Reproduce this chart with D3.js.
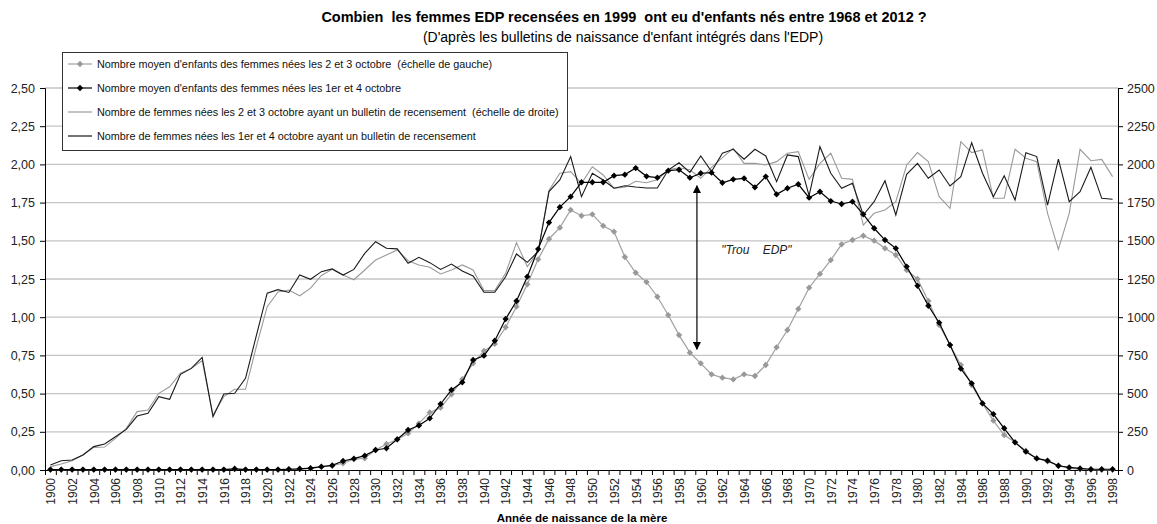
<!DOCTYPE html>
<html>
<head>
<meta charset="utf-8">
<script src="https://cdn.jsdelivr.net/npm/d3@7"></script>
<style>
  body { margin: 0; background: #fff; }
  svg { font-family: "Liberation Sans", Arial, sans-serif; display: block; }
</style>
</head>
<body>
<div id="chart"></div>
<script>
const W = 1157, H = 524;
const margin = { top: 88, right: 39, bottom: 54, left: 45 };

const years = d3.range(1900, 1999);

// Nombre moyen d'enfants, femmes nées les 2 et 3 octobre (échelle de gauche)
const childrenMid = [
  0.003, 0.003, 0.003, 0.003, 0.003, 0.003, 0.003, 0.003, 0.003, 0.003,
  0.003, 0.003, 0.003, 0.003, 0.003, 0.003, 0.003, 0.006, 0.003, 0.003,
  0.003, 0.003, 0.004, 0.006, 0.010, 0.020, 0.028, 0.044, 0.070, 0.077,
  0.131, 0.170, 0.200, 0.240, 0.305, 0.377, 0.408, 0.495, 0.594, 0.698,
  0.779, 0.825, 0.934, 1.069, 1.215, 1.379, 1.512, 1.586, 1.702, 1.664,
  1.673, 1.598, 1.560, 1.394, 1.291, 1.230, 1.134, 1.014, 0.883, 0.768,
  0.698, 0.626, 0.604, 0.593, 0.626, 0.615, 0.687, 0.803, 0.916, 1.054,
  1.193, 1.283, 1.374, 1.477, 1.505, 1.533, 1.501, 1.451, 1.407, 1.309,
  1.250, 1.106, 0.949, 0.818, 0.687, 0.556, 0.436, 0.323, 0.229, 0.181,
  0.126, 0.076, 0.056, 0.028, 0.012, 0.005, 0.002, 0.001, 0.001
];

// Nombre moyen d'enfants, femmes nées les 1er et 4 octobre
const childrenEdp = [
  0.003, 0.003, 0.003, 0.003, 0.003, 0.003, 0.003, 0.003, 0.003, 0.003,
  0.003, 0.003, 0.003, 0.003, 0.003, 0.003, 0.003, 0.008, 0.003, 0.003,
  0.003, 0.003, 0.005, 0.008, 0.012, 0.022, 0.030, 0.059, 0.074, 0.094,
  0.131, 0.142, 0.201, 0.262, 0.291, 0.338, 0.432, 0.524, 0.574, 0.720,
  0.748, 0.846, 0.988, 1.106, 1.265, 1.446, 1.619, 1.720, 1.789, 1.883,
  1.883, 1.883, 1.926, 1.933, 1.976, 1.922, 1.913, 1.959, 1.965, 1.913,
  1.942, 1.946, 1.880, 1.902, 1.909, 1.850, 1.920, 1.804, 1.844, 1.870,
  1.782, 1.821, 1.760, 1.741, 1.756, 1.673, 1.582, 1.505, 1.451, 1.331,
  1.206, 1.075, 0.964, 0.818, 0.663, 0.567, 0.436, 0.366, 0.273, 0.181,
  0.120, 0.076, 0.061, 0.028, 0.017, 0.010, 0.005, 0.005, 0.005
];

// Nombre de femmes nées les 2 et 3 octobre ayant un bulletin (échelle de droite)
const womenMid = [
  22, 39, 61, 98, 148, 150, 207, 273, 382, 393,
  502, 545, 633, 665, 715, 360, 480, 528, 528, 807,
  1069, 1165, 1178, 1140, 1190, 1273, 1313, 1276, 1245, 1309,
  1374, 1407, 1440, 1370, 1342, 1327, 1283, 1309, 1342, 1309,
  1174, 1174, 1287, 1488, 1331, 1429, 1830, 1942, 1953, 1876,
  1985, 1931, 1844, 1850, 1890, 1880, 1900, 1965, 1978, 1965,
  1909, 1981, 2044, 2105, 2007, 2007, 1996, 2018, 2073, 2083,
  1902, 2007, 2073, 1909, 1902, 1603, 1680, 1702, 1756, 1996,
  2077, 2018, 1789, 1713, 2149, 2077, 2094, 1778, 1778, 2099,
  2040, 2018, 1680, 1444, 1680, 2099, 2024, 2033, 1920
];

// Nombre de femmes nées les 1er et 4 octobre ayant un bulletin
const womenEdp = [
  33, 61, 65, 98, 153, 170, 218, 266, 353, 371,
  480, 463, 626, 665, 737, 349, 497, 502, 600, 880,
  1157, 1180, 1162, 1276, 1248, 1298, 1316, 1276, 1313, 1418,
  1494, 1451, 1447, 1353, 1392, 1357, 1313, 1348, 1302, 1270,
  1163, 1163, 1265, 1414, 1359, 1430, 1822, 1898, 2051, 1789,
  1942, 1898, 1844, 1860, 1852, 1846, 1846, 1963, 2011, 1948,
  2055, 1953, 2073, 2099, 2034, 2099, 2055, 1887, 2062, 2051,
  1795, 2116, 1942, 1844, 1876, 1669, 1756, 1893, 1669, 1935,
  2007, 1909, 1963, 1859, 1920, 2142, 1942, 1789, 1926, 1767,
  2077, 2051, 1734, 2035, 1756, 1821, 1981, 1778, 1772
];

const leftTicks = [0, 0.25, 0.5, 0.75, 1, 1.25, 1.5, 1.75, 2, 2.25, 2.5];
const rightTicks = [0, 250, 500, 750, 1000, 1250, 1500, 1750, 2000, 2250, 2500];
const yearLabels = years.filter(y => y % 2 === 0);

const legendLabels = [
  "Nombre moyen d'enfants des femmes nées les 2 et 3 octobre  (échelle de gauche)",
  "Nombre moyen d'enfants des femmes nées les 1er et 4 octobre",
  "Nombre de femmes nées les 2 et 3 octobre ayant un bulletin de recensement  (échelle de droite)",
  "Nombre de femmes nées les 1er et 4 octobre ayant un bulletin de recensement"
];

// annotation "Trou EDP" : double flèche entre les deux courbes
const gapArrow = { year: 1959.65, from: 1.86, to: 0.79 };
const gapLabel = { year: 1961.9, value: 1.415, text: "\"Trou    EDP\"" };

const svg = d3.select("#chart").append("svg")
    .attr("width", W)
    .attr("height", H);

const x = d3.scaleLinear()
    .domain([1899.5, 1998.5])
    .range([margin.left, W - margin.right]);
const yL = d3.scaleLinear().domain([0, 2.5]).range([H - margin.bottom, margin.top]);
const yR = d3.scaleLinear().domain([0, 2500]).range([H - margin.bottom, margin.top]);

// titles
svg.append("text")
    .attr("x", 624).attr("y", 22)
    .attr("text-anchor", "middle")
    .style("font-weight", "bold").style("font-size", "14.5px")
    .style("white-space", "pre")
    .text("Combien  les femmes EDP recensées en 1999  ont eu d'enfants nés entre 1968 et 2012 ?");
svg.append("text")
    .attr("x", 623).attr("y", 42)
    .attr("text-anchor", "middle")
    .style("font-size", "14px")
    .text("(D'après les bulletins de naissance d'enfant intégrés dans l'EDP)");

// gridlines
svg.append("g")
    .selectAll("line")
    .data(leftTicks.slice(1))
    .join("line")
    .attr("x1", x.range()[0]).attr("x2", x.range()[1])
    .attr("y1", d => yL(d)).attr("y2", d => yL(d))
    .attr("stroke", "#c4c4c4")
    .attr("stroke-width", 1.3);

// axes
const fmtLeft = d => d.toFixed(2).replace(".", ",");
const gLeft = svg.append("g")
    .attr("transform", `translate(${x.range()[0]},0)`)
    .call(d3.axisLeft(yL).tickValues(leftTicks).tickFormat(fmtLeft).tickSizeOuter(0).tickSize(5).tickPadding(5));
gLeft.selectAll("text").style("font-size", "12.5px").attr("fill", "#222");

const gRight = svg.append("g")
    .attr("transform", `translate(${x.range()[1]},0)`)
    .call(d3.axisRight(yR).tickValues(rightTicks).tickFormat(d3.format("d")).tickSizeOuter(0).tickSize(5).tickPadding(4));
gRight.selectAll("text").style("font-size", "12.5px").attr("fill", "#222");

const bottomY = H - margin.bottom;
svg.append("g")
    .attr("transform", `translate(0,${bottomY})`)
    .call(d3.axisBottom(x).tickValues(d3.range(1899.5, 1999, 1)).tickFormat("").tickSizeOuter(0).tickSize(5));

const gLabels = svg.append("g")
    .attr("transform", `translate(0,${bottomY})`)
    .call(d3.axisBottom(x).tickValues(yearLabels).tickFormat(d3.format("d")).tickSize(0));
gLabels.select(".domain").remove();
gLabels.selectAll("text")
    .attr("transform", "rotate(-90)")
    .attr("x", -8).attr("y", 0).attr("dy", "0.36em")
    .attr("text-anchor", "end")
    .attr("fill", "#222")
    .style("font-size", "12px");

svg.append("text")
    .attr("x", 582).attr("y", 522)
    .attr("text-anchor", "middle")
    .style("font-weight", "bold").style("font-size", "11.5px")
    .text("Année de naissance de la mère");

// series
const lineL = vals => d3.line().x((d, i) => x(years[i])).y(d => yL(d))(vals);
const lineR = vals => d3.line().x((d, i) => x(years[i])).y(d => yR(d))(vals);

svg.append("path").attr("d", lineR(womenMid))
    .attr("fill", "none").attr("stroke", "#9a9a9a").attr("stroke-width", 1.1);
svg.append("path").attr("d", lineR(womenEdp))
    .attr("fill", "none").attr("stroke", "#1a1a1a").attr("stroke-width", 1.1);

const diamond = d3.symbol(d3.symbolSquare, 20);

svg.append("path").attr("d", lineL(childrenMid))
    .attr("fill", "none").attr("stroke", "#a0a0a0").attr("stroke-width", 1.2);
svg.append("g").selectAll("path")
    .data(childrenMid)
    .join("path")
    .attr("d", diamond)
    .attr("transform", (d, i) => `translate(${x(years[i])},${yL(d)}) rotate(45)`)
    .attr("fill", "#999");

svg.append("path").attr("d", lineL(childrenEdp))
    .attr("fill", "none").attr("stroke", "#000").attr("stroke-width", 1.2);
svg.append("g").selectAll("path")
    .data(childrenEdp)
    .join("path")
    .attr("d", diamond)
    .attr("transform", (d, i) => `translate(${x(years[i])},${yL(d)}) rotate(45)`)
    .attr("fill", "#000");

// arrow
const defs = svg.append("defs");
defs.append("marker")
    .attr("id", "head")
    .attr("viewBox", "0 0 10 10")
    .attr("refX", 9).attr("refY", 5)
    .attr("markerWidth", 8).attr("markerHeight", 8)
    .attr("orient", "auto-start-reverse")
    .attr("markerUnits", "userSpaceOnUse")
    .append("path").attr("d", "M0,0L10,5L0,10z").attr("fill", "#000");

svg.append("line")
    .attr("x1", x(gapArrow.year)).attr("x2", x(gapArrow.year))
    .attr("y1", yL(gapArrow.from)).attr("y2", yL(gapArrow.to))
    .attr("stroke", "#000").attr("stroke-width", 1.2)
    .attr("marker-start", "url(#head)")
    .attr("marker-end", "url(#head)");

svg.append("text")
    .attr("x", x(gapLabel.year)).attr("y", yL(gapLabel.value))
    .style("font-style", "italic").style("font-size", "12px")
    .style("white-space", "pre")
    .attr("fill", "#222")
    .text(gapLabel.text);

// legend
const legend = svg.append("g");
legend.append("rect")
    .attr("x", 62.5).attr("y", 52.5).attr("width", 505).attr("height", 98)
    .attr("fill", "#fff").attr("stroke", "#333");

const legendStyles = [
  { stroke: "#a0a0a0", marker: "#999" },
  { stroke: "#000", marker: "#000" },
  { stroke: "#9a9a9a", marker: null },
  { stroke: "#1a1a1a", marker: null }
];
legendLabels.forEach((lab, i) => {
  const cy = 64 + i * 24;
  const st = legendStyles[i];
  legend.append("line")
      .attr("x1", 68).attr("x2", 92).attr("y1", cy).attr("y2", cy)
      .attr("stroke", st.stroke).attr("stroke-width", 1.2);
  if (st.marker) {
    legend.append("path")
        .attr("d", diamond)
        .attr("transform", `translate(80,${cy}) rotate(45)`)
        .attr("fill", st.marker);
  }
  legend.append("text")
      .attr("x", 97).attr("y", cy + 3.8)
      .style("font-size", "10.8px")
      .style("white-space", "pre")
      .attr("fill", "#111")
      .text(lab);
});
</script>
</body>
</html>
